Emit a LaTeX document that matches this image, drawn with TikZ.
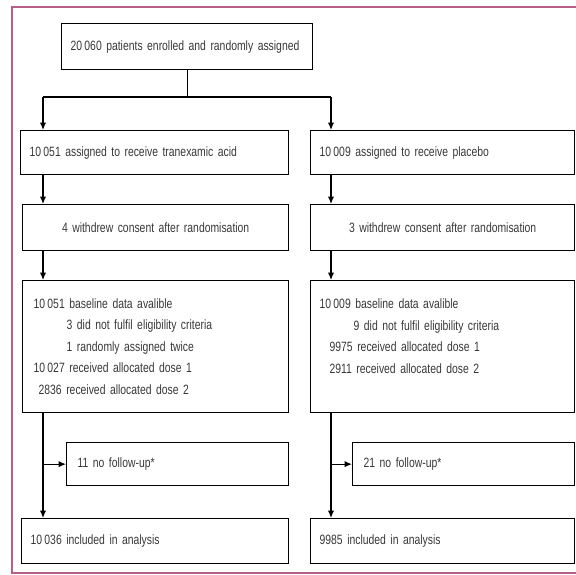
\documentclass[tikz,border=0pt]{standalone}
\usepackage{fontspec}
\setmainfont[FakeStretch=0.77]{Liberation Sans}
\usetikzlibrary{arrows.meta}
\definecolor{framecol}{RGB}{185,95,135}
\newcommand{\boxfont}{\fontsize{13.5}{21.5}\selectfont\spaceskip=2.3pt plus 0.5pt minus 0.5pt\relax}
\tikzset{
  box/.style={draw=black, line width=1.3pt, rectangle, anchor=north west, inner xsep=9pt, inner ysep=0pt,
    font=\boxfont, text=black!78, align=left},
  cbox/.style={box, align=center},
  conn/.style={draw=black, line width=1.3pt},
  arr/.style={conn, -{Latex[length=7.5pt,width=6.5pt]}},
}
\begin{document}
\begin{tikzpicture}[x=1pt,y=-1pt]
\useasboundingbox (0,0) rectangle (576,574);
\clip (0,0) rectangle (576,574);
\draw[framecol, line width=1.5pt] (12,7) rectangle (620,573);

\node[box, minimum width=251, minimum height=46, text width=233] (top) at (61,23) {\mbox{20\,060 patients enrolled and randomly assigned}};

\node[box, minimum width=268, minimum height=44, text width=250] (L1) at (20,130) {10\,051 assigned to receive tranexamic acid};
\node[box, minimum width=264, minimum height=44, text width=246, inner xsep=6pt] (R1) at (310,130) {10\,009 assigned to receive placebo};

\node[cbox, minimum width=266, minimum height=46, text width=248] (L2) at (22,204) {4 withdrew consent after randomisation};
\node[cbox, minimum width=264, minimum height=46, text width=246] (R2) at (310,204) {3 withdrew consent after randomisation};

\node[box, minimum width=266, minimum height=132, text width=244, inner xsep=11pt] (L3) at (22,280) {10\,051 baseline data avalible\\
\hspace*{33pt}3 did not fulfil eligibility criteria\\
\hspace*{33pt}1 randomly assigned twice\\
10\,027 received allocated dose 1\\
\hspace*{5pt}2836 received allocated dose 2};
\node[box, minimum width=264, minimum height=132, text width=246] (R3) at (310,280) {10\,009 baseline data avalible\\
\hspace*{34pt}9 did not fulfil eligibility criteria\\
\hspace*{10pt}9975 received allocated dose 1\\
\hspace*{10pt}2911 received allocated dose 2\\
\mbox{}};

\node[box, minimum width=222, minimum height=43, text width=200, inner xsep=11pt] (L4) at (66,442) {11 no follow-up*};
\node[box, minimum width=222, minimum height=43, text width=200, inner xsep=11pt] (R4) at (352,442) {21 no follow-up*};

\node[box, minimum width=267, minimum height=45, text width=249] (L5) at (21,518) {10\,036 included in analysis};
\node[box, minimum width=264, minimum height=45, text width=246] (R5) at (310,518) {9985 included in analysis};

\coordinate (jL) at (43,97);
\coordinate (jR) at (331,97);
\draw[conn] (top.south) |- (jL);
\draw[conn] (top.south |- jR) -- (jR);
\draw[arr] (jL) -- (jL |- L1.north);
\draw[arr] (jR) -- (jR |- R1.north);
\draw[arr] (L1.south -| jL) -- (L2.north -| jL);
\draw[arr] (R1.south -| jR) -- (R2.north -| jR);
\draw[arr] (L2.south -| jL) -- (L3.north -| jL);
\draw[arr] (R2.south -| jR) -- (R3.north -| jR);
\draw[arr] (L3.south -| jL) -- (L5.north -| jL);
\draw[arr] (R3.south -| jR) -- (R5.north -| jR);
\draw[arr] (L4.west -| jL) -- (L4.west);
\draw[arr] (R4.west -| jR) -- (R4.west);
\end{tikzpicture}
\end{document}
